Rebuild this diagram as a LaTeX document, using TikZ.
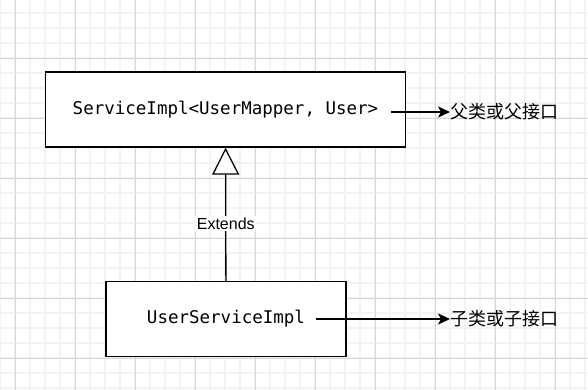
\documentclass[tikz,border=0pt]{standalone}
\usepackage{fontspec}
\setmainfont{Liberation Sans}
\setmonofont{DejaVu Sans Mono}
\newfontfamily\cjk{Noto Sans CJK SC}
\usetikzlibrary{arrows.meta}
\definecolor{gridlight}{HTML}{F3F3F3}
\definecolor{griddark}{HTML}{D6D6D6}
\begin{document}
\begin{tikzpicture}[
    x=1pt, y=-1pt,
    cls/.style={rectangle, draw, line width=1.3pt, fill=white, font=\ttfamily\fontsize{17.5}{21}\selectfont},
    note/.style={anchor=west, inner sep=0pt, font=\cjk\fontsize{18}{22}\selectfont},
    tag/.style={fill=white, inner sep=1.5pt, font=\fontsize{16}{19}\selectfont},
    arrow/.style={-{Stealth[length=12pt, width=11pt, inset=3pt]}, line width=1.3pt},
    extends/.style={-{Triangle[length=27pt, width=27pt, fill=white]}, line width=1.3pt}
]
    \useasboundingbox (0,0) rectangle (588,390);
    \foreach \x in {0,15,...,585} \draw[line width=1.5pt, gridlight] (\x,0) -- (\x,390);
    \foreach \y in {13,28,...,388} \draw[line width=1.5pt, gridlight] (0,\y) -- (588,\y);
    \foreach \x in {15,75,...,555} \draw[line width=0.9pt, griddark] (\x,0) -- (\x,390);
    \foreach \y in {58,118,...,358} \draw[line width=0.9pt, griddark] (0,\y) -- (588,\y);

    \node[cls, minimum width=360pt, minimum height=75pt] (parent) at (225.5,109.5) {ServiceImpl<UserMapper, User>};
    \node[cls, minimum width=240pt, minimum height=75pt] (child) at (226,319) {UserServiceImpl};

    \node[note] (parentnote) at (450,112) {父类或父接口};
    \node[note] (childnote) at (450,319) {子类或子接口};
    \coordinate (pstart) at (391,112);
    \coordinate (cstart) at (316,319);

    \draw[extends] (child) -- node[tag, pos=0.43] (ext) {Extends} (parent);
    \draw[arrow] (pstart) -- (parentnote.west);
    \draw[arrow] (cstart) -- (childnote.west);
\end{tikzpicture}
\end{document}
